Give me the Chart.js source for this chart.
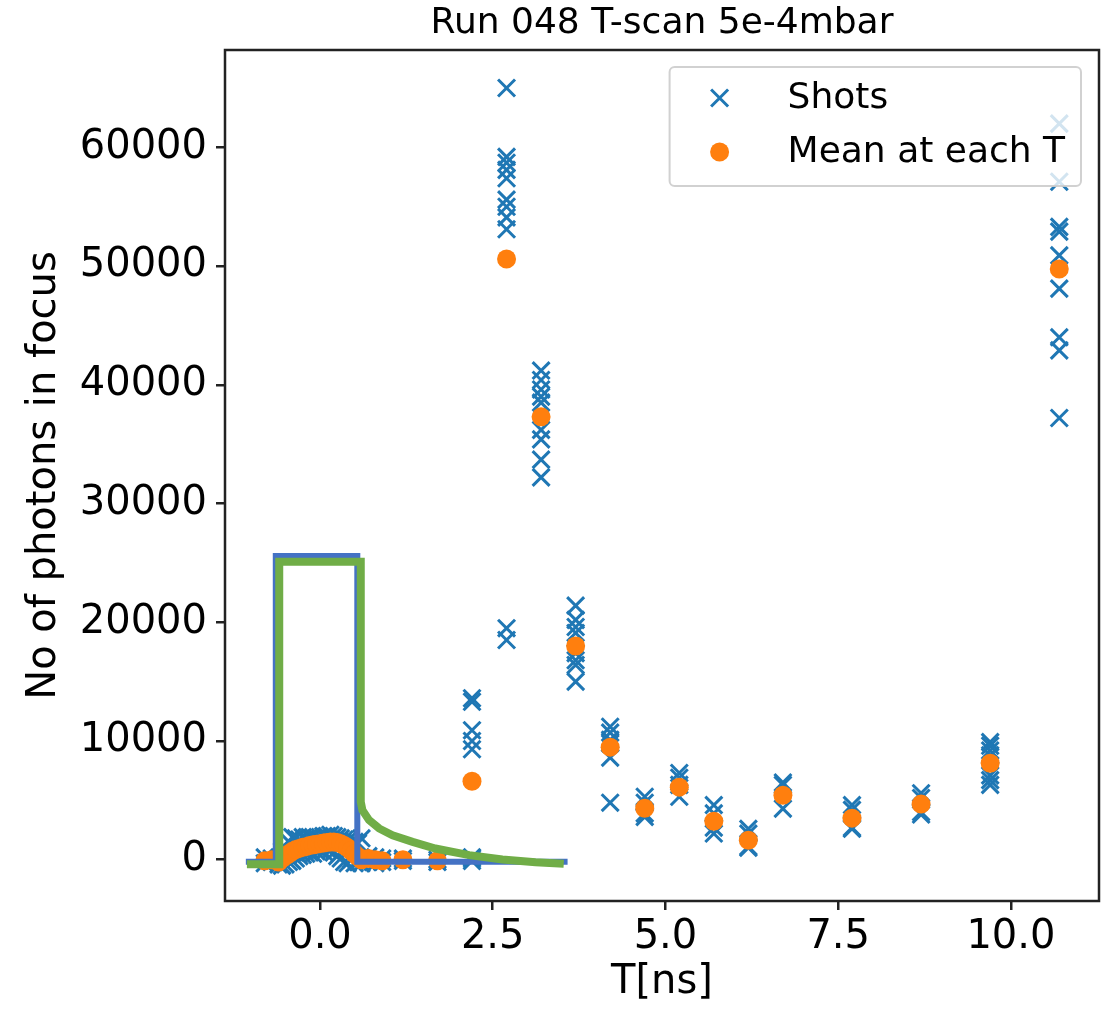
<!DOCTYPE html>
<html>
<head>
<meta charset="utf-8">
<title>Run 048 T-scan 5e-4mbar</title>
<script src="https://cdn.jsdelivr.net/npm/chart.js@4.4.1/dist/chart.umd.min.js"></script>
<style>
  html, body { margin: 0; padding: 0; background: #fff; }
  canvas { display: block; }
</style>
</head>
<body>
<canvas id="scanChart" width="1107" height="1010"></canvas>
<script>
// Run 048 T-scan at 5e-4 mbar: individual shots, mean per delay, pulse and fit overlays
(function () {
    // Individual shots (T in ns, photons in focus)
    const shotT = [
        -0.8, -0.8, -0.7, -0.7, -0.6, -0.6, -0.55, -0.55, -0.5, -0.5, -0.45, -0.45,
        -0.4, -0.4, -0.35, -0.35, -0.3, -0.3, -0.25, -0.25, -0.2, -0.2, -0.15, -0.15,
        -0.1, -0.1, -0.05, -0.05, 0, 0, 0.05, 0.05, 0.1, 0.1, 0.15, 0.15, 0.2, 0.2,
        0.25, 0.25, 0.3, 0.3, 0.35, 0.35, 0.4, 0.4, 0.45, 0.45, 0.5, 0.5, 0.55, 0.55,
        0.6, 0.6, 0.7, 0.7, 0.8, 0.8, 0.9, 0.9, 1.2, 1.2, 1.7, 1.7,
        2.2, 2.2, 2.2, 2.2, 2.2, 2.2, 2.2, 2.2,
        2.7, 2.7, 2.7, 2.7, 2.7, 2.7, 2.7, 2.7, 2.7, 2.7, 2.7,
        3.2, 3.2, 3.2, 3.2, 3.2, 3.2, 3.2, 3.2, 3.2,
        3.7, 3.7, 3.7, 3.7, 3.7, 3.7, 3.7, 3.7,
        4.2, 4.2, 4.2, 4.2, 4.2, 4.2,
        4.7, 4.7, 4.7, 4.7,
        5.2, 5.2, 5.2, 5.2,
        5.7, 5.7, 5.7, 5.7,
        6.2, 6.2, 6.2, 6.2,
        6.7, 6.7, 6.7,
        7.7, 7.7, 7.7, 7.7,
        8.7, 8.7, 8.7, 8.7,
        9.7, 9.7, 9.7, 9.7, 9.7, 9.7, 9.7,
        10.7, 10.7, 10.7, 10.7, 10.7, 10.7, 10.7, 10.7, 10.7
    ];
    const shotN = [
        200, -300, 100, -200, 0, -400, 700, -500, 1000, -400, 1500, -200,
        1900, -100, 1800, 100, 1700, 300, 1900, 400, 1800, 500, 1900, 600,
        1900, 500, 1800, 700, 1900, 800, 2000, 700, 2000, 900, 2100, 800, 2000, 600,
        1900, 300, 1800, 100, 1700, -200, 1600, -300, 1500, 0, 1500, -300, 1400, -200,
        1800, -300, 300, -200, 200, -300, 100, -200, 100, -100, 0, -200,
        13600, 13300, 10900, 10000, 9300, 200, -100, 100,
        65000, 59200, 58700, 58100, 57400, 55600, 55000, 54100, 53100, 19500, 18500,
        41200, 40400, 39600, 39000, 38500, 36200, 35400, 33700, 32200,
        21400, 20200, 19600, 19100, 17400, 16800, 16400, 15000,
        11200, 10700, 10100, 9800, 8600, 4800,
        5300, 4800, 3900, 3600,
        7300, 6900, 6300, 5300,
        4600, 3900, 2700, 2200,
        2600, 2200, 1100, 1000,
        6500, 6300, 4300,
        4600, 4200, 2700, 2600,
        5600, 5200, 4000, 3800,
        9900, 9600, 9200, 8800, 7100, 6700, 6300,
        62000, 57100, 53300, 52900, 50900, 48100, 44000, 42900, 37200
    ];

    // Mean at each T
    const meanT = [
        -0.8, -0.7, -0.6, -0.55, -0.5, -0.45, -0.4, -0.35, -0.3, -0.25, -0.2, -0.15,
        -0.1, -0.05, 0, 0.05, 0.1, 0.15, 0.2, 0.25, 0.3, 0.35, 0.4, 0.45, 0.5, 0.55,
        0.6, 0.7, 0.8, 0.9, 1.2, 1.7,
        2.2, 2.7, 3.2, 3.7, 4.2, 4.7, 5.2, 5.7, 6.2, 6.7, 7.7, 8.7, 9.7, 10.7
    ];
    const meanN = [
        -100, 0, -200, 100, 300, 500, 700, 850, 950, 1050, 1100, 1200,
        1250, 1300, 1350, 1400, 1450, 1500, 1500, 1450, 1350, 1200, 1000, 750, 500, 250,
        0, 100, 0, -100, 0, -100,
        6600, 50600, 37300, 18000, 9480, 4340, 6110, 3240, 1640, 5430, 3500, 4680, 8130, 49750
    ];

    // Blue rectangular pulse
    const pulseT = [-1.03, -0.64, -0.64, 0.54, 0.54, 3.54];
    const pulseN = [-180, -180, 25570, 25570, -180, -180];

    // Green pulse with decaying tail
    const fitT = [-1.0, -0.59, -0.59, 0.59, 0.59, 0.614, 0.71, 0.856, 1.05, 1.34, 1.67, 2.16, 2.64, 3.12, 3.47];
    const fitN = [-380, -380, 25090, 25090, 4870, 4170, 3330, 2630, 2060, 1500, 940, 380, 20, -210, -320];

    // Axis ticks
    const xTicks = [0, 2.5, 5, 7.5, 10];
    const yTicks = [0, 10000, 20000, 30000, 40000, 50000, 60000];

    const titleText = 'Run 048 T-scan 5e-4mbar';
    const blue = '#1f77b4';
    const orange = '#ff7f0e';
    const fontFamily = "'DejaVu Sans', sans-serif";

    function toPoints(xs, ys) {
        return xs.map(function (x, i) { return { x: x, y: ys[i] }; });
    }

    // Title centred over the plot area (not the whole canvas)
    const plotTitle = {
        id: 'plotTitle',
        afterDraw: function (chart) {
            const a = chart.chartArea;
            const ctx = chart.ctx;
            ctx.save();
            ctx.font = '36px ' + fontFamily;
            ctx.fillStyle = '#000';
            ctx.textAlign = 'center';
            ctx.textBaseline = 'middle';
            ctx.fillText(titleText, (a.left + a.right) / 2, 24);
            ctx.restore();
        }
    };

    // Full box around the plot area, like matplotlib spines
    const frame = {
        id: 'frame',
        afterDatasetsDraw: function (chart) {
            const a = chart.chartArea;
            const ctx = chart.ctx;
            ctx.save();
            ctx.strokeStyle = '#222';
            ctx.lineWidth = 2.5;
            ctx.strokeRect(a.left, a.top, a.right - a.left, a.bottom - a.top);
            ctx.restore();
        }
    };

    // Legend inside the upper right corner, over the data
    const insideLegend = {
        id: 'insideLegend',
        afterDraw: function (chart) {
            const a = chart.chartArea;
            const ctx = chart.ctx;
            const labels = ['Shots', 'Mean at each T'];
            ctx.save();
            ctx.font = '36px ' + fontFamily;
            const textW = Math.max.apply(null, labels.map(function (t) { return ctx.measureText(t).width; }));
            const w = 118 + textW + 16;
            const h = 119;
            const right = a.right - 18;
            const left = right - w;
            const top = a.top + 17;

            ctx.beginPath();
            ctx.roundRect(left, top, w, h, 5);
            ctx.fillStyle = 'rgba(255,255,255,0.8)';
            ctx.fill();
            ctx.strokeStyle = 'rgba(204,204,204,0.9)';
            ctx.lineWidth = 2;
            ctx.stroke();

            const mx = left + 50;
            const rows = [top + 31, top + 85];

            // cross marker
            ctx.strokeStyle = blue;
            ctx.lineWidth = 3;
            ctx.beginPath();
            ctx.moveTo(mx - 8.5, rows[0] - 8.5); ctx.lineTo(mx + 8.5, rows[0] + 8.5);
            ctx.moveTo(mx - 8.5, rows[0] + 8.5); ctx.lineTo(mx + 8.5, rows[0] - 8.5);
            ctx.stroke();

            // circle marker
            ctx.fillStyle = orange;
            ctx.beginPath();
            ctx.arc(mx, rows[1], 9.5, 0, Math.PI * 2);
            ctx.fill();

            ctx.fillStyle = '#000';
            ctx.textBaseline = 'middle';
            ctx.textAlign = 'left';
            labels.forEach(function (t, i) { ctx.fillText(t, left + 118, rows[i] + 1); });
            ctx.restore();
        }
    };

    const ctx = document.getElementById('scanChart').getContext('2d');

    new Chart(ctx, {
        type: 'scatter',
        data: {
            datasets: [
                {
                    label: 'Fit',
                    type: 'line',
                    data: toPoints(fitT, fitN),
                    borderColor: '#70ad47',
                    borderWidth: 8,
                    pointRadius: 0,
                    showLine: true,
                    fill: false,
                    tension: 0,
                    borderCapStyle: 'square',
                    order: 1
                },
                {
                    label: 'Pulse',
                    type: 'line',
                    data: toPoints(pulseT, pulseN),
                    borderColor: '#4472c4',
                    borderWidth: 6,
                    pointRadius: 0,
                    showLine: true,
                    fill: false,
                    tension: 0,
                    borderCapStyle: 'square',
                    order: 2
                },
                {
                    label: 'Mean at each T',
                    data: toPoints(meanT, meanN),
                    pointStyle: 'circle',
                    pointRadius: 9.5,
                    backgroundColor: orange,
                    borderColor: orange,
                    borderWidth: 0,
                    order: 3
                },
                {
                    label: 'Shots',
                    data: toPoints(shotT, shotN),
                    pointStyle: 'crossRot',
                    pointRadius: 12,
                    borderColor: blue,
                    backgroundColor: blue,
                    borderWidth: 3,
                    order: 4
                }
            ]
        },
        options: {
            responsive: false,
            animation: false,
            events: [],
            layout: { autoPadding: false, padding: { left: 0, right: 8, top: 50, bottom: 0 } },
            plugins: {
                legend: { display: false },
                tooltip: { enabled: false },
                title: { display: false }
            },
            scales: {
                x: {
                    type: 'linear',
                    position: 'bottom',
                    min: -1.375,
                    max: 11.275,
                    afterFit: function (s) {
                        s.height = 109;
                        s.paddingLeft = 0;
                        s.paddingRight = 0;
                    },
                    afterBuildTicks: function (s) { s.ticks = xTicks.map(function (v) { return { value: v }; }); },
                    ticks: {
                        color: '#000',
                        font: { family: fontFamily, size: 40 },
                        padding: 4,
                        maxRotation: 0,
                        callback: function (v) { return v.toFixed(1); }
                    },
                    grid: {
                        drawOnChartArea: false,
                        drawTicks: true,
                        tickLength: 9,
                        color: '#222',
                        lineWidth: 2.5
                    },
                    border: { display: false },
                    title: {
                        display: true,
                        text: 'T[ns]',
                        color: '#000',
                        font: { family: fontFamily, size: 40 },
                        padding: { top: 0, bottom: 3 }
                    }
                },
                y: {
                    type: 'linear',
                    position: 'left',
                    min: -3480,
                    max: 68200,
                    afterFit: function (s) {
                        s.width = 225;
                        s.paddingTop = 0;
                        s.paddingBottom = 0;
                    },
                    afterBuildTicks: function (s) { s.ticks = yTicks.map(function (v) { return { value: v }; }); },
                    ticks: {
                        color: '#000',
                        font: { family: fontFamily, size: 40 },
                        padding: 9,
                        callback: function (v) { return String(v); }
                    },
                    grid: {
                        drawOnChartArea: false,
                        drawTicks: true,
                        tickLength: 9,
                        color: '#222',
                        lineWidth: 2.5
                    },
                    border: { display: false },
                    title: {
                        display: true,
                        text: 'No of photons in focus',
                        color: '#000',
                        font: { family: fontFamily, size: 40 },
                        padding: { top: 21, bottom: 0 }
                    }
                }
            }
        },
        plugins: [frame, insideLegend, plotTitle]
    });
})();
</script>
</body>
</html>
